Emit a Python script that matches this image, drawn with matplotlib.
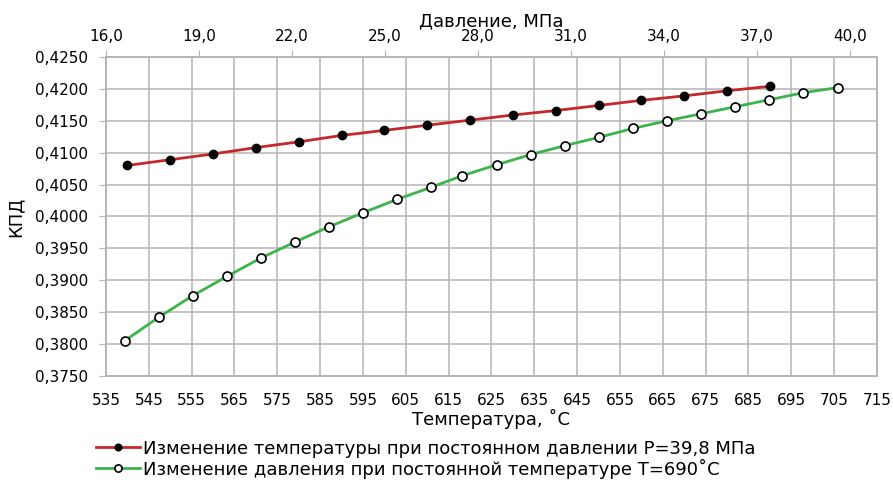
import matplotlib.pyplot as plt
from matplotlib.ticker import FuncFormatter, MultipleLocator

plt.rcParams['font.family'] = ['DejaVu Sans']

# изменение температуры при P = 39,8 МПа
temp = [540, 550, 560, 570, 580, 590, 600, 610, 620, 630, 640, 650, 660, 670, 680, 690]
kpd_temp = [0.4080, 0.4089, 0.4098, 0.4108, 0.4117, 0.4127, 0.4135, 0.4143,
            0.4151, 0.4159, 0.4166, 0.4174, 0.4182, 0.4189, 0.4197, 0.4204]

# изменение давления при T = 690 C
press = [16.6, 17.7, 18.8, 19.9, 21.0, 22.1, 23.2, 24.3, 25.4, 26.5, 27.5,
         28.6, 29.7, 30.8, 31.9, 33.0, 34.1, 35.2, 36.3, 37.4, 38.5, 39.6]
kpd_press = [0.3805, 0.3842, 0.3876, 0.3906, 0.3935, 0.3960, 0.3984, 0.4006,
             0.4027, 0.4046, 0.4064, 0.4081, 0.4097, 0.4111, 0.4124, 0.4138,
             0.4150, 0.4161, 0.4172, 0.4183, 0.4194, 0.4202]

temp_ticks = list(range(535, 716, 10))
press_ticks = [16.0, 19.0, 22.0, 25.0, 28.0, 31.0, 34.0, 37.0, 40.0]

label_t = "Изменение температуры при постоянном давлении P=39,8 МПа"
label_p = "Изменение давления при постоянной температуре T=690˚C"

grid_c = "#b4b4b4"

fig = plt.figure(figsize=(8.93, 4.8), dpi=100)
ax = fig.add_axes([0.1187, 0.2167, 0.8633, 0.6646])
ax2 = ax.twiny()

l1, = ax.plot(temp, kpd_temp, color="#c4282a", lw=2, marker="o", ms=6,
              mfc="black", mec="black", zorder=3)
l2, = ax2.plot(press, kpd_press, color="#3cb44b", lw=2, marker="o", ms=6.5,
               mfc="white", mec="black", mew=1.2, zorder=3)

ax.set_xlim(535, 715)
ax.set_ylim(0.375, 0.425)
ax.set_xticks(temp_ticks)
ax.yaxis.set_major_locator(MultipleLocator(0.005))
ax.yaxis.set_major_formatter(FuncFormatter(lambda v, p: f"{v:.4f}".replace(".", ",")))
ax.grid(True, color=grid_c, lw=1.1)
ax.set_axisbelow(True)

ax2.set_xlim(16.0, 40.87)
ax2.set_xticks(press_ticks)
ax2.xaxis.set_major_formatter(FuncFormatter(lambda v, p: f"{v:.1f}".replace(".", ",")))

for a in (ax, ax2):
    for s in a.spines.values():
        s.set_color(grid_c)
        s.set_linewidth(1.1)

ax.tick_params(axis="x", length=0, labelsize=11, pad=12)
ax.tick_params(axis="y", length=5, color=grid_c, labelsize=11, pad=8)
ax2.tick_params(axis="x", length=5, color=grid_c, labelsize=11, pad=4)

ax.set_xlabel("Температура, ˚С", fontsize=13, labelpad=1)
ax.set_ylabel("КПД", fontsize=13, labelpad=7)
ax2.set_xlabel("Давление, МПа", fontsize=13, labelpad=2)

fig.legend([l1, l2], [label_t, label_p], loc="upper left",
           bbox_to_anchor=(0.108, 0.084), bbox_transform=fig.transFigure,
           frameon=False, fontsize=13, handlelength=2.4, handletextpad=0.2,
           labelspacing=0.05, borderaxespad=0, borderpad=0, markerscale=0.8)

fig.savefig("out.png", dpi=100)
